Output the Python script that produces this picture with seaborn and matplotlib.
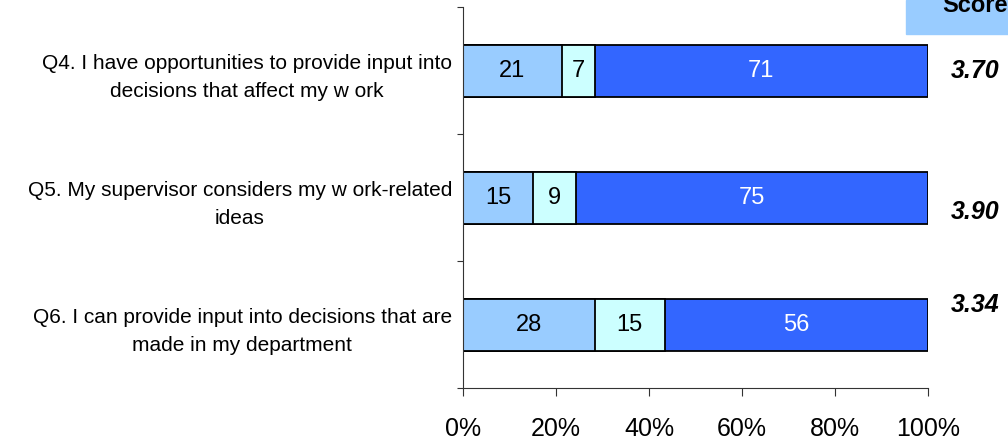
import matplotlib
matplotlib.use("Agg")
import matplotlib.pyplot as plt
from matplotlib.patches import Rectangle
import numpy as np
import pandas as pd
import seaborn as sns

# Survey items and response shares (%)
questions = [
    "Q4. I have opportunities to provide input into\ndecisions that affect my w ork",
    "Q5. My supervisor considers my w ork-related\nideas",
    "Q6. I can provide input into decisions that are\nmade in my department",
]
disagree = [21, 15, 28]
neutral = [7, 9, 15]
agree = [71, 75, 56]
scores = ["3.70", "3.90", "3.34"]
x_ticks = [0, 0.2, 0.4, 0.6, 0.8, 1.0]
x_tick_labels = ["0%", "20%", "40%", "60%", "80%", "100%"]

colors = {"disagree": "#99CCFF", "neutral": "#CCFFFF", "agree": "#3366FF"}

sns.set_theme(style="white")
plt.rcParams["font.family"] = ["Liberation Sans", "DejaVu Sans"]
plt.rcParams["text.color"] = "black"
plt.rcParams["xtick.color"] = "black"
plt.rcParams["ytick.color"] = "black"

# Each row is drawn as a 100% stacked bar
df = pd.DataFrame({"question": questions, "disagree": disagree,
                   "neutral": neutral, "agree": agree})
total = df[["disagree", "neutral", "agree"]].sum(axis=1)
df["c1"] = df["disagree"] / total
df["c2"] = (df["disagree"] + df["neutral"]) / total
df["c3"] = (df["disagree"] + df["neutral"] + df["agree"]) / total

fig = plt.figure(figsize=(10.08, 4.44), dpi=100)
ax = fig.add_axes([463 / 1008, 1 - 388 / 444, 465 / 1008, 380.5 / 444])

bar_kw = dict(orient="h", width=0.41, edgecolor="black", linewidth=1.3,
              saturation=1, ax=ax)
sns.barplot(data=df, x="c3", y="question", color=colors["agree"], **bar_kw)
sns.barplot(data=df, x="c2", y="question", color=colors["neutral"], **bar_kw)
sns.barplot(data=df, x="c1", y="question", color=colors["disagree"], **bar_kw)

# Segment value labels
for i in range(len(df)):
    starts = [0, df["c1"][i], df["c2"][i]]
    ends = [df["c1"][i], df["c2"][i], df["c3"][i]]
    vals = [df["disagree"][i], df["neutral"][i], df["agree"][i]]
    txt_col = ["black", "black", "white"]
    for s, e, v, tc in zip(starts, ends, vals, txt_col):
        ax.text((s + e) / 2, i, f"{v}", ha="center", va="center",
                fontsize=17, color=tc)

ax.set_xlim(0, 1)
ax.set_ylim(2.5, -0.5)
ax.set_xlabel("")
ax.set_ylabel("")
ax.set_xticks(x_ticks)
ax.set_xticklabels(x_tick_labels, fontsize=18)
ax.tick_params(axis="x", direction="out", length=6, width=0.8, pad=15,
               bottom=True, color="#333333")
ax.set_yticks(range(len(questions)))
ax.set_yticklabels(questions, fontsize=15)
for lab in ax.get_yticklabels():
    lab.set_multialignment("center")
    lab.set_linespacing(1.6)
ax.tick_params(axis="y", which="major", length=0, pad=8)
ax.set_yticks([-0.5, 0.5, 1.5, 2.5], minor=True)
ax.tick_params(axis="y", which="minor", direction="out", length=4,
               width=0.8, left=True, color="#333333")

for side in ["top", "right"]:
    ax.spines[side].set_visible(False)
for side in ["left", "bottom"]:
    ax.spines[side].set_color("#333333")
    ax.spines[side].set_linewidth(0.8)

# Mean score column
fig.patches.append(Rectangle((906 / 1008, 1 - 34 / 444), 102 / 1008, 34 / 444,
                             transform=fig.transFigure, color="#99CCFF",
                             zorder=0))
fig.text(942 / 1008, 1 - 12 / 444, "Score", fontsize=17, fontweight="bold",
         va="baseline", ha="left")
score_y = [70.5, 212, 305]
for s, yy in zip(scores, score_y):
    fig.text(975 / 1008, 1 - yy / 444, s, fontsize=18, fontweight="bold",
             fontstyle="italic", ha="center", va="center")

fig.savefig("out.png", dpi=100)
